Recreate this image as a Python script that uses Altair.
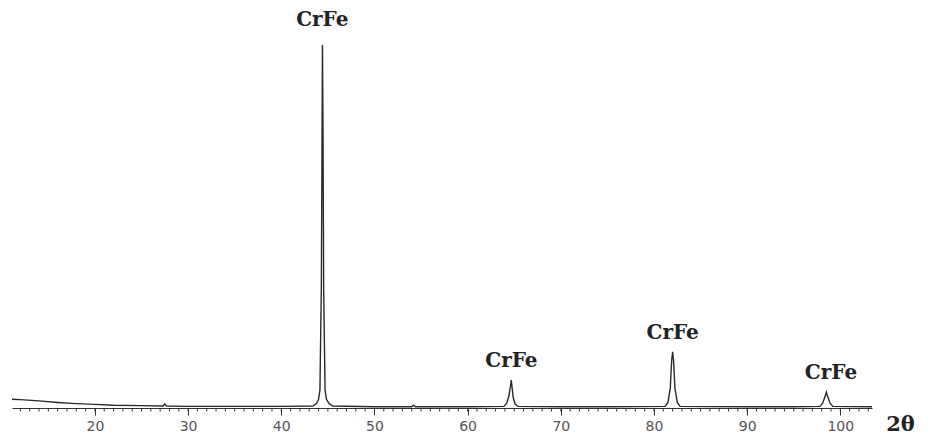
import altair as alt
import pandas as pd

# XRD pattern (2-theta in degrees, intensity in arbitrary counts)
two_theta = [
    11.1, 12.0, 14.0, 16.0, 18.0, 20.0, 22.0, 25.0, 27.3, 27.5, 27.7, 30.0, 35.0, 40.0, 43.4,
    43.8, 44.0, 44.15, 44.3, 44.38, 44.42, 44.48, 44.55, 44.7, 44.85, 45.1, 45.5,
    50.0, 54.0, 54.2, 54.4, 60.0, 63.9,
    64.2, 64.45, 64.6, 64.68, 64.78, 64.9, 65.1, 65.4,
    70.0, 75.0, 81.2,
    81.5, 81.75, 81.9, 82.0, 82.1, 82.25, 82.5, 82.8,
    90.0, 95.0, 97.8,
    98.1, 98.35, 98.5, 98.65, 98.9, 99.2,
    103.4,
]
intensity = [
    22, 21, 18, 14, 11, 9, 7, 6, 5, 10, 5, 4, 4, 4, 5,
    12, 22, 45, 300, 700, 912, 700, 300, 45, 22, 12, 5,
    3, 3, 7, 3, 3, 4,
    12, 32, 55, 70, 50, 25, 10, 4,
    3, 3, 4,
    14, 50, 120, 141, 120, 50, 14, 4,
    3, 3, 4,
    12, 28, 40, 28, 12, 4,
    3,
]

label_theta = [44.4, 64.7, 82.0, 99.0]
label_intensity = [975, 118, 188, 88]
label_text = ["CrFe", "CrFe", "CrFe", "CrFe"]

major_ticks = [20, 30, 40, 50, 60, 70, 80, 90, 100]
minor_ticks = list(range(12, 104))

df = pd.DataFrame({"two_theta": two_theta, "intensity": intensity})
labels = pd.DataFrame({"two_theta": label_theta, "intensity": label_intensity, "text": label_text})
minor = pd.DataFrame({"tick": minor_ticks})

xscale = alt.Scale(domain=[11.1, 103.4], nice=False, zero=False)
yscale = alt.Scale(domain=[0, 1005], nice=False)

line = alt.Chart(df).mark_line(color="#2a2a2a", strokeWidth=1.4).encode(
    x=alt.X(
        "two_theta:Q",
        scale=xscale,
        axis=alt.Axis(
            values=major_ticks,
            format="d",
            labelOverlap=False,
            labelFont="DejaVu Sans",
            labelFontSize=14,
            labelColor="#555555",
            labelPadding=4,
            tickSize=7,
            tickColor="#333333",
            tickWidth=1,
            domainColor="#333333",
            domainWidth=1.2,
            grid=False,
            title="2θ",
            titleFont="DejaVu Serif",
            titleFontSize=21,
            titleFontWeight="bold",
            titleColor="#222222",
            titleX=888,
            titleY=16,
            titleBaseline="middle",
            titleAlign="center",
        ),
    ),
    y=alt.Y("intensity:Q", scale=yscale, axis=None),
)

minor_rules = alt.Chart(minor).mark_rule(color="#333333", strokeWidth=1).encode(
    x=alt.X("tick:Q", scale=xscale),
    y=alt.value(400),
    y2=alt.value(403.5),
)

text = alt.Chart(labels).mark_text(
    font="DejaVu Serif",
    fontSize=20,
    fontWeight="bold",
    color="#222222",
    baseline="middle",
    align="center",
).encode(
    x=alt.X("two_theta:Q", scale=xscale),
    y=alt.Y("intensity:Q", scale=yscale),
    text="text:N",
)

chart = (
    alt.layer(line, minor_rules, text)
    .properties(
        width=860,
        height=400,
        autosize=alt.AutoSizeParams(type="none"),
        padding={"left": 4, "top": 0, "right": 48, "bottom": 28},
    )
    .configure_view(strokeWidth=0, stroke="transparent")
)

chart.save("out.html", embed_options={"renderer": "svg", "actions": False})
